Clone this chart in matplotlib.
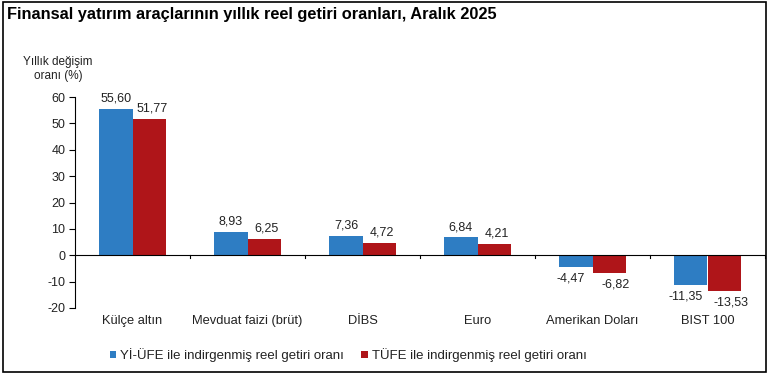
import matplotlib
matplotlib.use("Agg")
import matplotlib.pyplot as plt
from matplotlib.patches import Rectangle
import numpy as np

categories = ["Külçe altın", "Mevduat faizi (brüt)", "DİBS", "Euro", "Amerikan Doları", "BIST 100"]
yiufe = [55.60, 8.93, 7.36, 6.84, -4.47, -11.35]
tufe = [51.77, 6.25, 4.72, 4.21, -6.82, -13.53]
series_names = ["Yİ-ÜFE ile indirgenmiş reel getiri oranı", "TÜFE ile indirgenmiş reel getiri oranı"]
yticks = [-20, -10, 0, 10, 20, 30, 40, 50, 60]

plt.rcParams['font.family'] = ['Liberation Sans', 'DejaVu Sans']
blue = "#2E7DC3"
red = "#AF1519"
tc = "#222222"

fig = plt.figure(figsize=(7.71, 3.77), dpi=100)
W, H = 771, 377
ax = fig.add_axes([75 / W, 1 - 308 / H, 690 / W, (308 - 97) / H])

x = np.arange(len(categories))
bw = 0.287
b1 = ax.bar(x - bw / 2, yiufe, bw, color=blue, label=series_names[0])
b2 = ax.bar(x + bw / 2, tufe, bw, color=red, label=series_names[1])

def fmt(v):
    return f"{v:.2f}".replace(".", ",")

for bars, vals, side in ((b1, yiufe, -1), (b2, tufe, 1)):
    for r, v in zip(bars, vals):
        cx = r.get_x() + r.get_width() / 2
        if v >= 0:
            dx = 0 if side < 0 else 2
            ax.annotate(fmt(v), (cx, v), xytext=(dx, 3), textcoords="offset points",
                        ha="center", va="bottom", fontsize=9, color=tc)
        else:
            dx = -4 if side < 0 else 5
            ax.annotate(fmt(v), (cx, v), xytext=(dx, -4), textcoords="offset points",
                        ha="center", va="top", fontsize=9, color=tc)

ax.set_xlim(-0.5, len(categories) - 0.5)
ax.set_ylim(-20, 60)
ax.set_yticks(yticks)
ax.set_yticklabels([str(t) for t in yticks], fontsize=9, color=tc)
ax.tick_params(axis='y', direction='out', length=4, width=0.8, pad=3)
for s in ("top", "right", "bottom"):
    ax.spines[s].set_visible(False)
ax.spines["left"].set_linewidth(0.8)
ax.axhline(0, color="black", lw=0.8)
ax.set_xticks([])
# category boundary ticks on zero line
for b in np.arange(0.5, len(categories), 1.0):
    ax.plot([b, b], [0, -1.2], color="black", lw=0.8, clip_on=False)
for i, c in enumerate(categories):
    ax.text(i, -22.5, c, ha="center", va="top", fontsize=9.3, color=tc, clip_on=False)

fig.text(7 / W, 1 - 14 / H, "Finansal yatırım araçlarının yıllık reel getiri oranları, Aralık 2025",
         fontsize=11.8, fontweight="bold", ha="left", va="center", color="black")
fig.text(58 / W, 1 - 69 / H, "Yıllık değişim\noranı (%)", fontsize=8.5, ha="center", va="center",
         color=tc, linespacing=1.25)

leg = fig.legend(handles=[b1, b2], labels=series_names, loc="center left",
                 bbox_to_anchor=(98 / W, 1 - 355 / H), ncol=2, frameon=False, fontsize=9.5,
                 handlelength=0.5, handleheight=0.5, handletextpad=0.3, columnspacing=1.3,
                 labelcolor=tc)

fig.patches.append(Rectangle((3 / W, 5 / H), 763 / W, 370 / H, transform=fig.transFigure,
                             fill=False, edgecolor="black", lw=1.2))
fig.savefig("out.png", dpi=100)
